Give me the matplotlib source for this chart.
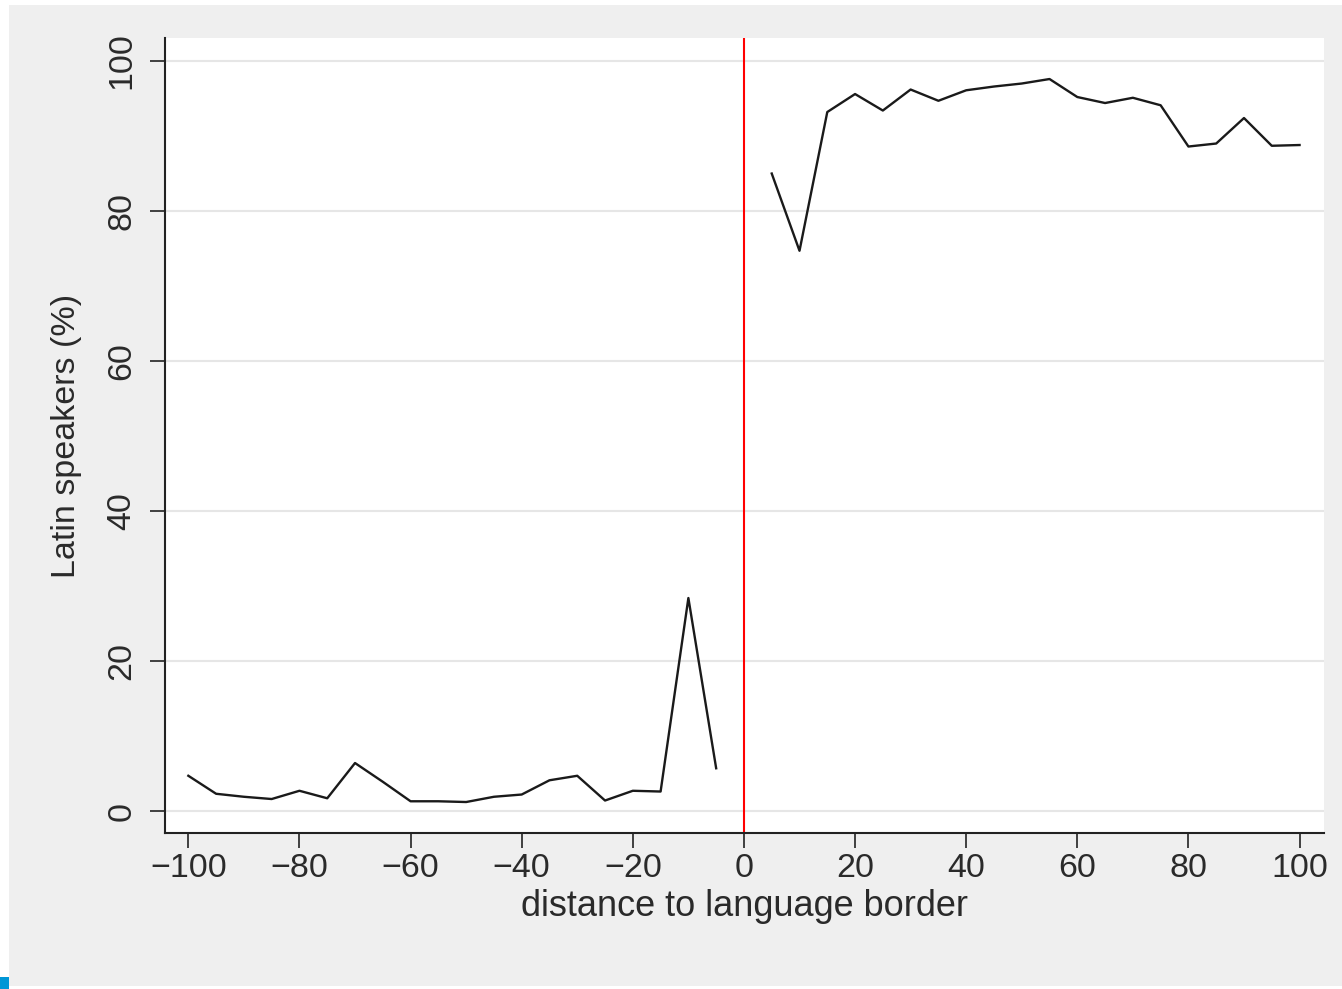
import matplotlib
matplotlib.use("Agg")
import matplotlib.pyplot as plt
from matplotlib.patches import Rectangle
import numpy as np

# Distance bins (km) on each side of the language border
dist_west = [-100, -95, -90, -85, -80, -75, -70, -65, -60, -55,
             -50, -45, -40, -35, -30, -25, -20, -15, -10, -5]
share_west = [4.7, 2.3, 1.9, 1.6, 2.7, 1.7, 6.4, 3.9, 1.3, 1.3,
              1.2, 1.9, 2.2, 4.1, 4.7, 1.4, 2.7, 2.6, 28.4, 5.7]

dist_east = [5, 10, 15, 20, 25, 30, 35, 40, 45, 50,
             55, 60, 65, 70, 75, 80, 85, 90, 95, 100]
share_east = [85.0, 74.7, 93.2, 95.6, 93.4, 96.2, 94.7, 96.1, 96.6, 97.0,
              97.6, 95.2, 94.4, 95.1, 94.1, 88.6, 89.0, 92.4, 88.7, 88.8]

x_ticks = [-100, -80, -60, -40, -20, 0, 20, 40, 60, 80, 100]
y_ticks = [0, 20, 40, 60, 80, 100]

plt.rcParams['font.family'] = ['Liberation Sans', 'DejaVu Sans']

W, H = 1342, 989
fig = plt.figure(figsize=(W / 100, H / 100), dpi=100)
fig.patch.set_facecolor('white')

# Gray graph region and the small corner marker
fig.patches.append(Rectangle((9 / W, 3 / H), 1 - 9 / W, (H - 8) / H,
                             transform=fig.transFigure, facecolor='#efefef',
                             edgecolor='none', zorder=-10))
fig.patches.append(Rectangle((0, 0), 9 / W, 12 / H,
                             transform=fig.transFigure, facecolor='#0096d6',
                             edgecolor='none', zorder=-9))

ax = fig.add_axes([165 / W, (H - 833) / H, (1324 - 165) / W, (833 - 38) / H])
ax.set_facecolor('white')

ax.set_xlim(-104.2, 104.4)
ax.set_ylim(-2.93, 103.07)

for yv in y_ticks:
    ax.axhline(yv, color='#e6e6e6', lw=1.5, zorder=1)

ax.axvline(0, color='#ff0000', lw=1.5, zorder=2)

ax.plot(dist_west, share_west, color='#1a1a1a', lw=1.7, zorder=3)
ax.plot(dist_east, share_east, color='#1a1a1a', lw=1.7, zorder=3)

ax.set_xticks(x_ticks)
ax.set_xticklabels([str(t).replace('-', '\u2212') for t in x_ticks])
ax.set_yticks(y_ticks)
ax.set_yticklabels([str(t) for t in y_ticks], rotation=90, va='center')

for side in ['top', 'right']:
    ax.spines[side].set_visible(False)
for side in ['left', 'bottom']:
    ax.spines[side].set_color('#222222')
    ax.spines[side].set_linewidth(1.5)

ax.tick_params(axis='both', direction='out', length=10.8, width=1.2,
               color='#222222', labelsize=24.5, labelcolor='#2a2a2a')
ax.tick_params(axis='x', pad=3.5)
ax.tick_params(axis='y', pad=9)

ax.set_xlabel('distance to language border', fontsize=26, color='#2a2a2a',
              labelpad=3.5)
ax.set_ylabel('Latin speakers (%)', fontsize=24.5, color='#2a2a2a',
              labelpad=18)

fig.savefig('out.png', dpi=100, facecolor=fig.get_facecolor())
